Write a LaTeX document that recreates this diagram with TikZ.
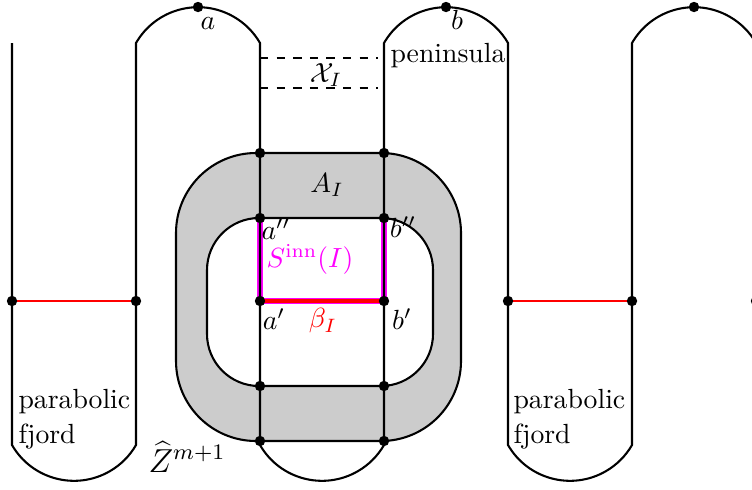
\documentclass[tikz,border=0pt]{standalone}
\definecolor{mag}{RGB}{255,0,255}
\begin{document}
\begin{tikzpicture}[x=0.361pt,y=0.361pt,
  line/.style={line width=0.75pt},
  lbl/.style={inner sep=0pt},
  fjordred/.style={red,line width=0.9pt}]
\clip (0,0) rectangle (752,489);
% named points
\coordinate (pa) at (198,482);
\coordinate (pb) at (446,482);
\coordinate (pc) at (694,482);
\coordinate (f1l) at (12,188);
\coordinate (f1r) at (136,188);
\coordinate (f3l) at (508,188);
\coordinate (f3r) at (632,188);
\coordinate (rr) at (756,188);
\coordinate (ot1) at (260,336);
\coordinate (ot2) at (384,336);
\coordinate (app) at (260,271);
\coordinate (bpp) at (384,271);
\coordinate (ap) at (260,188);
\coordinate (bp) at (384,188);
\coordinate (ib1) at (260,103);
\coordinate (ib2) at (384,103);
\coordinate (ob1) at (260,48);
\coordinate (ob2) at (384,48);
% annulus A
\path[fill=black!20,draw=black,line width=0.75pt,even odd rule]
  [rounded corners=28.9pt] (176,48) rectangle (461,336)
  [rounded corners=18.8pt] (207,103) rectangle (433,271);
% S^inn(I)
\draw[mag,line width=2pt] (app) -- (ap) -- (bp) -- (bpp);
% main curve
\draw[line] (12,446) -- (12,44)
  arc[start angle=210,end angle=330,radius=71.6] -- (136,446)
  arc[start angle=150,end angle=30,radius=71.6] -- (260,44)
  arc[start angle=210,end angle=330,radius=71.6] -- (384,446)
  arc[start angle=150,end angle=30,radius=71.6] -- (508,44)
  arc[start angle=210,end angle=330,radius=71.6] -- (632,446)
  arc[start angle=150,end angle=30,radius=71.6] -- (756,44);
% beta lines
\draw[fjordred] (f1l) -- (f1r);
\draw[fjordred] (f3l) -- (f3r);
\draw[red,line width=1.3pt] (ap) -- (bp);
% X_I
\draw[dashed,line width=0.6pt] (260,431) -- (378,431);
\draw[dashed,line width=0.6pt] (260,401) -- (378,401);
% dots
\foreach \p in {pa,pb,pc,f1l,f1r,f3l,f3r,rr,ot1,ot2,app,bpp,ap,bp,ib1,ib2,ob1,ob2}
  \fill (\p) circle[radius=5.2];
% labels
\node[lbl] (la) at (208,465) {$a$};
\node[lbl] (lb) at (457,469) {$b$};
\node[lbl,anchor=base west] (lpen) at (390,427) {peninsula};
\node[lbl] (lX) at (326,414) {$\mathcal{X}_I$};
\node[lbl] (lA) at (327,304) {$A_I$};
\node[lbl] (lapp) at (276,260) {$a''$};
\node[lbl] (lbpp) at (403,262) {$b''$};
\node[lbl,mag] (lS) at (310,230) {$S^{\mathrm{inn}}(I)$};
\node[lbl] (lap) at (274,170) {$a'$};
\node[lbl] (lbp) at (402,170) {$b'$};
\node[lbl,red] (lbeta) at (323,168) {$\beta_I$};
\node[lbl,anchor=base west] (p1a) at (18,81) {parabolic};
\node[lbl,anchor=base west] (p1b) at (18,46) {fjord};
\node[lbl,anchor=base west] (p3a) at (513,81) {parabolic};
\node[lbl,anchor=base west] (p3b) at (513,46) {fjord};
\node[lbl,anchor=base west,font=\large] (lZ) at (148,17) {$\widehat{Z}^{m+1}$};
\end{tikzpicture}
\end{document}
